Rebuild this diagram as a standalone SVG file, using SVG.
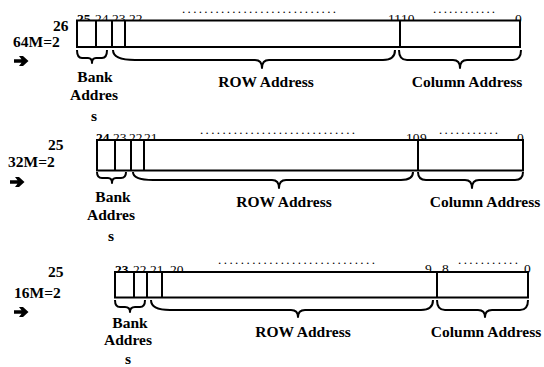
<svg xmlns="http://www.w3.org/2000/svg" width="544" height="367" viewBox="0 0 544 367" font-family="'Liberation Serif', 'Times New Roman', 'DejaVu Serif', serif">
<style>
text{font-family:"Liberation Serif","Times New Roman","DejaVu Serif",serif;fill:#000}
.lb{font-size:15.5px;font-weight:bold}
.bit{font-size:13.5px}
.bb{font-weight:bold}
.dot{font-size:13px}
.box{fill:#fff;stroke:#000;stroke-width:2}
.ln{stroke:#000;stroke-width:2;fill:none}
.br{stroke:#000;stroke-width:2;fill:none;stroke-linejoin:round}
.arr{fill:#000}
</style>
<defs>
  <path id="arrow" class="arr" d="M0,-1.8 H7.5 L5,-5 H9 L14.5,0 L9,5 H5 L7.5,1.8 H0 Z"/>
</defs>
<rect width="544" height="367" fill="#fff"/>

<g id="row1">
  <text class="lb" x="53" y="31">26</text>
  <text class="lb" x="13" y="47">64M=2</text>
  <use href="#arrow" x="14" y="61"/>
  <text class="bit bb" x="77" y="23">25</text>
  <text class="bit" x="95" y="23">24</text>
  <text class="bit" x="112" y="23">23</text>
  <text class="bit" x="129" y="23">22</text>
  <text class="dot" x="182" y="13" textLength="154" lengthAdjust="spacing">............................</text>
  <text class="bit" x="388" y="23">11</text>
  <text class="bit" x="401" y="23">10</text>
  <text class="dot" x="433" y="13" textLength="62" lengthAdjust="spacing">............</text>
  <text class="bit" x="515" y="23">0</text>
  <rect class="box" x="77" y="20.5" width="443" height="26.5"/>
  <path class="ln" d="M96,20.5V47M112,20.5V47M125,20.5V47M400,20.5V47"/>
  <text class="lb" x="95" y="82" text-anchor="middle">Bank</text>
  <text class="lb" x="94" y="100" text-anchor="middle">Addres</text>
  <text class="lb" x="94" y="121" text-anchor="middle">s</text>
  <text class="lb" x="266" y="87" text-anchor="middle">ROW Address</text>
  <text class="lb" x="467" y="87" text-anchor="middle">Column Address</text>
</g>

<g id="row2">
  <text class="lb" x="48" y="150">25</text>
  <text class="lb" x="8" y="167">32M=2</text>
  <use href="#arrow" x="10" y="182"/>
  <text class="bit bb" x="96" y="142">24</text>
  <text class="bit" x="113" y="142">23</text>
  <text class="bit" x="129" y="142">22</text>
  <text class="bit" x="144" y="142">21</text>
  <text class="dot" x="200" y="134" textLength="155" lengthAdjust="spacing">............................</text>
  <text class="bit" x="406" y="142">10</text>
  <text class="bit" x="420" y="142">9</text>
  <text class="dot" x="439" y="134" textLength="59" lengthAdjust="spacing">...........</text>
  <text class="bit" x="517" y="142">0</text>
  <rect class="box" x="97" y="140" width="426" height="30.5"/>
  <path class="ln" d="M115,140V170.5M131,140V170.5M144,140V170.5M418,140V170.5"/>
  <text class="lb" x="113" y="202" text-anchor="middle">Bank</text>
  <text class="lb" x="111" y="220" text-anchor="middle">Addres</text>
  <text class="lb" x="111" y="241" text-anchor="middle">s</text>
  <text class="lb" x="284" y="207" text-anchor="middle">ROW Address</text>
  <text class="lb" x="485" y="207" text-anchor="middle">Column Address</text>
</g>

<g id="row3">
  <text class="lb" x="48" y="277">25</text>
  <text class="lb" x="14" y="298">16M=2</text>
  <use href="#arrow" x="14" y="312"/>
  <text class="bit bb" x="115" y="274">23</text>
  <text class="bit" x="133" y="274">22</text>
  <text class="bit" x="150" y="274">21</text>
  <text class="bit" x="170" y="274">20</text>
  <text class="dot" x="218" y="264" textLength="157" lengthAdjust="spacing">............................</text>
  <text class="bit" x="425" y="273">9</text>
  <text class="bit" x="442" y="273">8</text>
  <text class="dot" x="458" y="264" textLength="60" lengthAdjust="spacing">...........</text>
  <text class="bit" x="524" y="273">0</text>
  <rect class="box" x="115" y="272" width="413" height="25.5"/>
  <path class="ln" d="M134,272V297.5M147,272V297.5M162,272V297.5M437,272V297.5"/>
  <text class="lb" x="130" y="328" text-anchor="middle">Bank</text>
  <text class="lb" x="128" y="345" text-anchor="middle">Addres</text>
  <text class="lb" x="128" y="364" text-anchor="middle">s</text>
  <text class="lb" x="303" y="337" text-anchor="middle">ROW Address</text>
  <text class="lb" x="486" y="337" text-anchor="middle">Column Address</text>
</g>

<g id="braces">
  <path class="br" d="M77,50 Q77,58 82,58 L88,58 Q92,58 92,63 Q92,58 96,58 L102,58 Q107,58 107,50"/>
  <path class="br" d="M113,50 Q113,60 135,60 L255,60 Q262,60 262,68 Q262,60 269,60 L383,60 Q395,60 395,50"/>
  <path class="br" d="M399,50 Q399,60 407,60 L453,60 Q460,60 460,68 Q460,60 467,60 L513,60 Q521,60 521,50"/>

  <path class="br" d="M97,172 Q97,178 102,178 L108,178 Q112,178 112,183 Q112,178 116,178 L121,178 Q126,178 126,172"/>
  <path class="br" d="M133,172 Q133,180 153,180 L272,180 Q279,180 279,188 Q279,180 286,180 L401,180 Q413,180 413,172"/>
  <path class="br" d="M418,172 Q418,180 426,180 L465,180 Q472,180 472,188 Q472,180 479,180 L515,180 Q523,180 523,172"/>

  <path class="br" d="M115,300 Q115,307 120,307 L125,307 Q130,307 130,312 Q130,307 135,307 L140,307 Q145,307 145,300"/>
  <path class="br" d="M151,300 Q151,310 170,310 L291,310 Q298,310 298,317 Q298,310 305,310 L421,310 Q433,310 433,300"/>
  <path class="br" d="M437,300 Q437,310 445,310 L478,310 Q485,310 485,317 Q485,310 492,310 L520,310 Q528,310 528,300"/>
</g>
</svg>
